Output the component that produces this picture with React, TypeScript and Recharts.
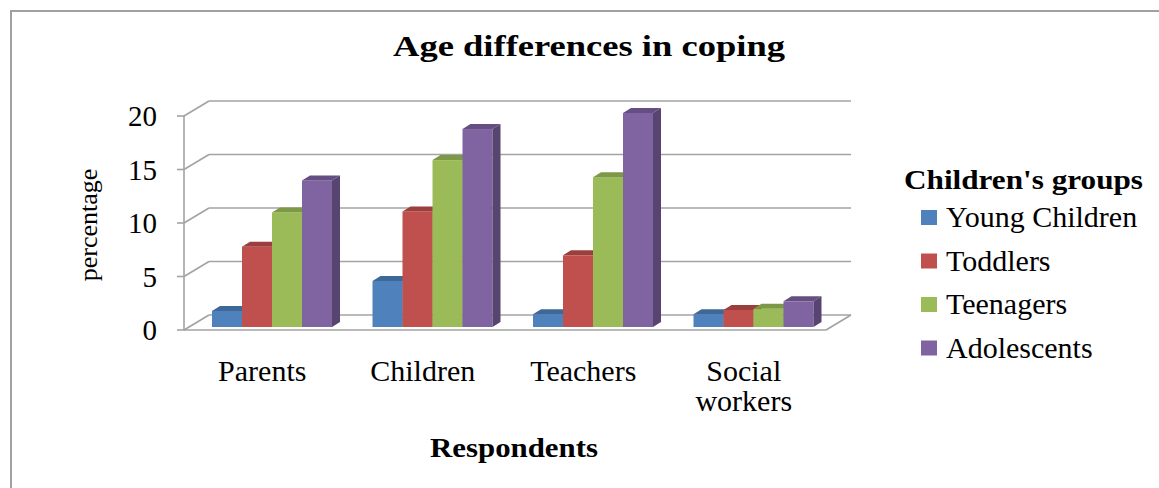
import { BarChart, Bar, XAxis, YAxis, CartesianGrid, ReferenceLine } from "recharts"

const respondents = ["Parents", "Children", "Teachers", "Social workers"]
const youngChildren = [1.5, 4.3, 1.2, 1.2]
const toddlers = [7.5, 10.8, 6.7, 1.6]
const teenagers = [10.7, 15.6, 14, 1.7]
const adolescents = [13.7, 18.5, 20, 2.4]
const yTicks = [0, 5, 10, 15, 20]

const data = respondents.map((name, i) => ({
  name,
  young: youngChildren[i],
  toddlers: toddlers[i],
  teenagers: teenagers[i],
  adolescents: adolescents[i],
}))

const series = [
  { key: "young", name: "Young Children", front: "#4F81BD", top: "#3E6898", side: "#375C88" },
  { key: "toddlers", name: "Toddlers", front: "#C0504D", top: "#9C3F3C", side: "#8A3735" },
  { key: "teenagers", name: "Teenagers", front: "#9BBB59", top: "#7D9847", side: "#6F873F" },
  { key: "adolescents", name: "Adolescents", front: "#8064A2", top: "#654F82", side: "#574470" },
]

const FONT = '"Liberation Serif", "Times New Roman", serif'
const GRID = "#a3a3a3"
// depth of the 3d box (back wall offset) and of the bars
const DX = 25
const DY = 15
const BX = 7
const BY = 3
const CAP_X = 8
const CAP_Y = 5

const make3DBar = (s: typeof series[number]) => (props: any) => {
  const { x, y, width, height } = props
  if (width == null || height == null) return <g />
  const X = x + BX
  const Y = y - BY
  const w = width
  const h = height
  return (
    <g>
      <rect x={X} y={Y} width={w} height={h} fill={s.front} />
      <polygon
        points={`${X},${Y} ${X + w},${Y} ${X + w + CAP_X},${Y - CAP_Y} ${X + CAP_X},${Y - CAP_Y}`}
        fill={s.top}
      />
      <polygon
        points={`${X + w},${Y} ${X + w + CAP_X},${Y - CAP_Y} ${X + w + CAP_X},${Y + h - CAP_Y} ${X + w},${Y + h}`}
        fill={s.side}
      />
    </g>
  )
}

const gridLine = (p: any) => {
  const { x1, y1, x2 } = p
  return (
    <g key={p.key}>
      <line x1={x1} y1={y1} x2={x1 + DX} y2={y1 - DY} stroke={GRID} strokeWidth={1.6} />
      <line x1={x1 + DX} y1={y1 - DY} x2={x2 + DX} y2={y1 - DY} stroke={GRID} strokeWidth={1.6} />
    </g>
  )
}

const floorEdge = (p: any) => {
  const { x2, y1 } = p
  return <line x1={x2} y1={y1} x2={x2 + DX} y2={y1 - DY} stroke={GRID} strokeWidth={1.6} />
}

const CategoryTick = (props: any) => {
  const { x, y, payload } = props
  const lines = String(payload.value).split(" ")
  return (
    <text x={x - 2} y={y} textAnchor="middle" fontSize={30} style={{ fontFamily: FONT }} fill="#000">
      {lines.map((l, i) => (
        <tspan key={i} x={x - 2} dy={i === 0 ? 51 : 30}>
          {l}
        </tspan>
      ))}
    </text>
  )
}

const ValueTick = (props: any) => {
  const { x, y, payload } = props
  return (
    <text x={x} y={y} dy={10} textAnchor="end" fontSize={29} style={{ fontFamily: FONT }} fill="#000">
      {payload.value}
    </text>
  )
}

export default function App() {
  const txt = { fontFamily: FONT }
  return (
    <div style={{ position: "absolute", left: 0, top: 0, width: 1159, height: 488, background: "#fff", overflow: "hidden" }}>
      <BarChart
        width={1159}
        height={488}
        data={data}
        margin={{ top: 116, right: 333, bottom: 98, left: 84 }}
        barCategoryGap={21}
        barGap={0}
      >
        <CartesianGrid vertical={false} horizontal={gridLine} />
        <XAxis
          dataKey="name"
          height={60}
          axisLine={{ stroke: GRID, strokeWidth: 1.6 }}
          tickLine={false}
          tickSize={0}
          tickMargin={0}
          tick={<CategoryTick />}
          interval={0}
        />
        <YAxis
          width={100}
          domain={[0, 20]}
          ticks={yTicks}
          axisLine={{ stroke: GRID, strokeWidth: 1.6 }}
          tickLine={{ stroke: GRID, strokeWidth: 1.6 }}
          tickSize={7}
          tickMargin={20}
          tick={<ValueTick />}
        />
        <ReferenceLine y={0} stroke="none" shape={floorEdge} />
        {series.map((s) => (
          <Bar key={s.key} dataKey={s.key} name={s.name} shape={make3DBar(s)} isAnimationActive={false} />
        ))}
      </BarChart>
      <svg
        width={1159}
        height={488}
        style={{ position: "absolute", left: 0, top: 0, pointerEvents: "none" }}
      >
        <rect x={11} y={11} width={1200} height={520} fill="none" stroke="#a0a0a0" strokeWidth={2} />
        <text x={393} y={56} fontSize={29} fontWeight="bold" textLength={392} lengthAdjust="spacingAndGlyphs" style={txt}>
          Age differences in coping
        </text>
        <text x={97} y={225} fontSize={26} textAnchor="middle" transform="rotate(-90 97 225)" style={txt}>
          percentage
        </text>
        <text x={430} y={457} fontSize={27} fontWeight="bold" textLength={168} lengthAdjust="spacingAndGlyphs" style={txt}>
          Respondents
        </text>
        <text x={904} y={189} fontSize={27} fontWeight="bold" textLength={239} lengthAdjust="spacingAndGlyphs" style={txt}>
          Children's groups
        </text>
        {series.map((s, i) => (
          <g key={s.key}>
            <rect x={921} y={210 + i * 43.5} width={16} height={15} fill={s.front} />
            <text x={946} y={227 + i * 43.5} fontSize={30} style={txt}>
              {s.name}
            </text>
          </g>
        ))}
      </svg>
    </div>
  )
}
